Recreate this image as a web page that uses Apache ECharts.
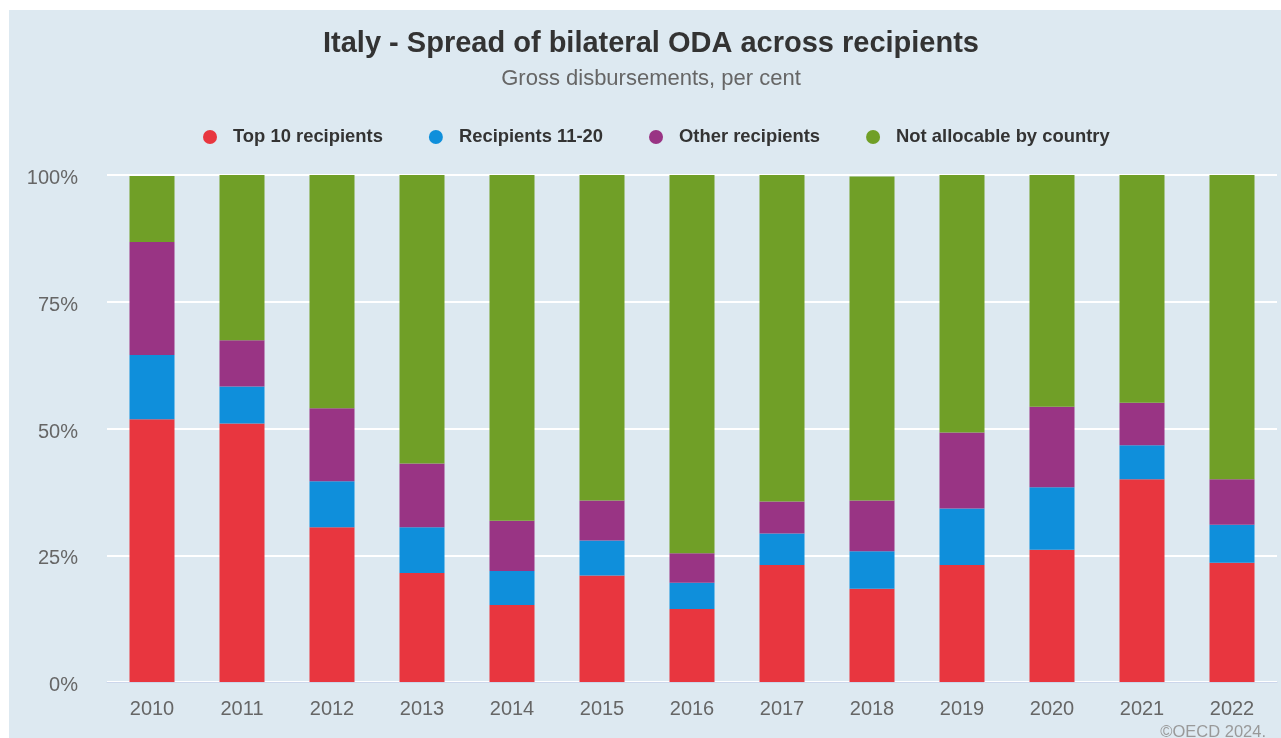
<!DOCTYPE html>
<html>
<head>
<meta charset="utf-8">
<title>Italy - Spread of bilateral ODA across recipients</title>
<script src="https://cdn.jsdelivr.net/npm/echarts@6/dist/echarts.min.js"></script>
<style>
  html, body { margin: 0; padding: 0; background: #ffffff; overflow: hidden; width: 1281px; height: 738px; }
  #chart { position: absolute; left: 9px; top: 10px; width: 1284px; height: 728px; background: #dde9f1; }
</style>
</head>
<body>
<div id="chart"></div>
<script>
// Years on the category axis
const years = ['2010', '2011', '2012', '2013', '2014', '2015', '2016', '2017', '2018', '2019', '2020', '2021', '2022'];

// Share of gross bilateral disbursements, per cent
const top10 =        [51.8, 51.0, 30.5, 21.5, 15.2, 21.0, 14.4, 23.1, 18.4, 23.1, 26.1, 40.0, 23.5];
const recip11to20 =  [12.7,  7.3,  9.1,  9.0,  6.7,  6.9,  5.2,  6.2,  7.4, 11.1, 12.3,  6.7,  7.5];
const otherRecip =   [22.3,  9.1, 14.4, 12.6,  9.9,  7.9,  5.8,  6.3, 10.0, 15.0, 15.9,  8.4,  9.0];
const notAllocable = [13.0, 32.6, 46.0, 56.9, 68.2, 64.2, 74.6, 64.4, 63.9, 50.8, 45.7, 44.9, 60.0];

// Y axis ticks
const yTicks = [0, 25, 50, 75, 100];

const seriesDefs = [
  { name: 'Top 10 recipients', data: top10, color: '#e8363f' },
  { name: 'Recipients 11-20', data: recip11to20, color: '#0f8fdb' },
  { name: 'Other recipients', data: otherRecip, color: '#993484' },
  { name: 'Not allocable by country', data: notAllocable, color: '#709f27' }
];

const FONT = '"Liberation Sans", Arial, Helvetica, sans-serif';

const chart = echarts.init(document.getElementById('chart'), null, { renderer: 'canvas' });

chart.setOption({
  backgroundColor: '#dde9f1',
  animation: false,
  title: [
    {
      text: 'Italy - Spread of bilateral ODA across recipients',
      left: 'center',
      top: 14,
      textStyle: { fontFamily: FONT, fontSize: 29, fontWeight: 'bold', color: '#333333' }
    },
    {
      text: 'Gross disbursements, per cent',
      left: 'center',
      top: 53,
      textStyle: { fontFamily: FONT, fontSize: 22, fontWeight: 'normal', color: '#666666' }
    },
    {
      text: '©OECD 2024.',
      right: 22,
      bottom: -8,
      textStyle: { fontFamily: FONT, fontSize: 16.5, fontWeight: 'normal', color: '#999999' }
    }
  ],
  legend: {
    left: 189,
    top: 113,
    icon: 'circle',
    itemWidth: 14,
    itemHeight: 14,
    itemGap: 46,
    textStyle: { fontFamily: FONT, fontSize: 18.4, fontWeight: 'bold', color: '#333333', padding: [0, 0, 0, 11] },
    data: seriesDefs.map(s => s.name)
  },
  grid: { left: 98, right: 16, top: 165, bottom: 56, containLabel: false },
  xAxis: {
    type: 'category',
    data: years,
    axisLine: { show: true, lineStyle: { color: '#ccd6eb', width: 1 } },
    axisTick: { show: false },
    axisLabel: { fontFamily: FONT, fontSize: 20, color: '#666666', margin: 17 }
  },
  yAxis: {
    type: 'value',
    min: yTicks[0],
    max: yTicks[yTicks.length - 1],
    interval: yTicks[1] - yTicks[0],
    axisLine: { show: false },
    axisTick: { show: false },
    splitLine: { show: true, lineStyle: { color: '#ffffff', width: 2 } },
    axisLabel: {
      margin: 29,
      formatter: '{t|{value}%}',
      rich: { t: { fontFamily: FONT, fontSize: 20, color: '#666666', padding: [7, 0, 0, 0] } }
    }
  },
  series: seriesDefs.map(s => ({
    name: s.name,
    type: 'bar',
    stack: 'total',
    barWidth: 45,
    data: s.data,
    itemStyle: { color: s.color },
    emphasis: { disabled: true }
  }))
});
</script>
</body>
</html>
